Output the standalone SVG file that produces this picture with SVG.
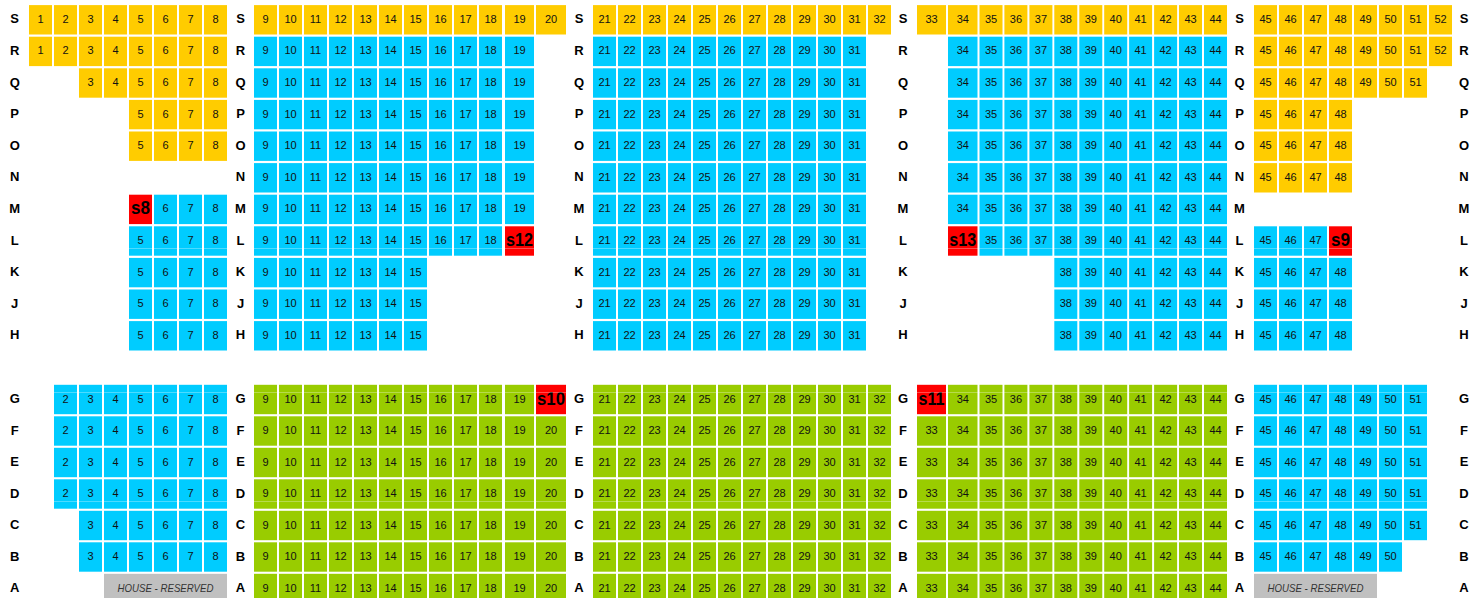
<svg xmlns="http://www.w3.org/2000/svg" width="1484" height="598" viewBox="0 0 1484 598">
<style>
rect{width:23px;height:29.4px;y:-13.7px}
rect.w{width:29px}
rect.w2{width:29.5px}
rect.w3{width:30px}
.y rect{fill:#ffcc00}
.b rect{fill:#00ccff}
.g rect{fill:#99cc00}
rect.r{fill:#ff0000}
rect.h{fill:#c0c0c0;width:123px}
text{font-family:"Liberation Sans",Arial,sans-serif;font-size:11px;text-anchor:middle;dominant-baseline:central;fill:#111}
text.l{font-size:13px;font-weight:bold;fill:#000}
text.rt{font-size:18px;font-weight:bold;fill:#000}
text.hs{font-size:10.5px;font-style:italic;fill:#333}
</style>
<rect x="0" y="0" width="1484" height="598" fill="#fff" style="width:1484px;height:598px;y:0px"/>

<g id="row-S" transform="translate(0,18.8)">
<g class="y"><rect x="29"/><text x="40.5">1</text><rect x="54"/><text x="65.5">2</text><rect x="79"/><text x="90.5">3</text><rect x="104"/><text x="115.5">4</text><rect x="129"/><text x="140.5">5</text><rect x="154"/><text x="165.5">6</text><rect x="179"/><text x="190.5">7</text><rect x="204"/><text x="215.5">8</text></g>
<g class="y"><rect x="254"/><text x="265.5">9</text><rect x="279"/><text x="290.5">10</text><rect x="304"/><text x="315.5">11</text><rect x="329"/><text x="340.5">12</text><rect x="354"/><text x="365.5">13</text><rect x="379"/><text x="390.5">14</text><rect x="404"/><text x="415.5">15</text><rect x="429"/><text x="440.5">16</text><rect x="454"/><text x="465.5">17</text><rect x="479"/><text x="490.5">18</text><rect class="w" x="505"/><text x="519.5">19</text><rect class="w3" x="536"/><text x="551">20</text></g>
<g class="y"><rect x="593"/><text x="604.5">21</text><rect x="618"/><text x="629.5">22</text><rect x="643"/><text x="654.5">23</text><rect x="668"/><text x="679.5">24</text><rect x="693"/><text x="704.5">25</text><rect x="718"/><text x="729.5">26</text><rect x="743"/><text x="754.5">27</text><rect x="768"/><text x="779.5">28</text><rect x="793"/><text x="804.5">29</text><rect x="818"/><text x="829.5">30</text><rect x="843"/><text x="854.5">31</text><rect x="868"/><text x="879.5">32</text></g>
<g class="y"><rect class="w" x="917"/><text x="931.5">33</text><rect class="w2" x="948"/><text x="962.8">34</text><rect x="979.5"/><text x="991">35</text><rect x="1004.4"/><text x="1015.9">36</text><rect x="1029.4"/><text x="1040.9">37</text><rect x="1054.3"/><text x="1065.8">38</text><rect x="1079.3"/><text x="1090.8">39</text><rect x="1104.2"/><text x="1115.7">40</text><rect x="1129.1"/><text x="1140.6">41</text><rect x="1154.1"/><text x="1165.6">42</text><rect x="1179"/><text x="1190.5">43</text><rect x="1204"/><text x="1215.5">44</text></g>
<g class="y"><rect x="1254"/><text x="1265.5">45</text><rect x="1279"/><text x="1290.5">46</text><rect x="1304"/><text x="1315.5">47</text><rect x="1329"/><text x="1340.5">48</text><rect x="1354"/><text x="1365.5">49</text><rect x="1379"/><text x="1390.5">50</text><rect x="1404"/><text x="1415.5">51</text><rect x="1429"/><text x="1440.5">52</text></g>
<text class="l" x="14.7">S</text><text class="l" x="240.5">S</text><text class="l" x="579">S</text><text class="l" x="903">S</text><text class="l" x="1239.5">S</text><text class="l" x="1464">S</text>
</g>

<g id="row-R" transform="translate(0,50.4)">
<g class="y"><rect x="29"/><text x="40.5">1</text><rect x="54"/><text x="65.5">2</text><rect x="79"/><text x="90.5">3</text><rect x="104"/><text x="115.5">4</text><rect x="129"/><text x="140.5">5</text><rect x="154"/><text x="165.5">6</text><rect x="179"/><text x="190.5">7</text><rect x="204"/><text x="215.5">8</text></g>
<g class="b"><rect x="254"/><text x="265.5">9</text><rect x="279"/><text x="290.5">10</text><rect x="304"/><text x="315.5">11</text><rect x="329"/><text x="340.5">12</text><rect x="354"/><text x="365.5">13</text><rect x="379"/><text x="390.5">14</text><rect x="404"/><text x="415.5">15</text><rect x="429"/><text x="440.5">16</text><rect x="454"/><text x="465.5">17</text><rect x="479"/><text x="490.5">18</text><rect class="w" x="505"/><text x="519.5">19</text></g>
<g class="b"><rect x="593"/><text x="604.5">21</text><rect x="618"/><text x="629.5">22</text><rect x="643"/><text x="654.5">23</text><rect x="668"/><text x="679.5">24</text><rect x="693"/><text x="704.5">25</text><rect x="718"/><text x="729.5">26</text><rect x="743"/><text x="754.5">27</text><rect x="768"/><text x="779.5">28</text><rect x="793"/><text x="804.5">29</text><rect x="818"/><text x="829.5">30</text><rect x="843"/><text x="854.5">31</text></g>
<g class="b"><rect class="w2" x="948"/><text x="962.8">34</text><rect x="979.5"/><text x="991">35</text><rect x="1004.4"/><text x="1015.9">36</text><rect x="1029.4"/><text x="1040.9">37</text><rect x="1054.3"/><text x="1065.8">38</text><rect x="1079.3"/><text x="1090.8">39</text><rect x="1104.2"/><text x="1115.7">40</text><rect x="1129.1"/><text x="1140.6">41</text><rect x="1154.1"/><text x="1165.6">42</text><rect x="1179"/><text x="1190.5">43</text><rect x="1204"/><text x="1215.5">44</text></g>
<g class="y"><rect x="1254"/><text x="1265.5">45</text><rect x="1279"/><text x="1290.5">46</text><rect x="1304"/><text x="1315.5">47</text><rect x="1329"/><text x="1340.5">48</text><rect x="1354"/><text x="1365.5">49</text><rect x="1379"/><text x="1390.5">50</text><rect x="1404"/><text x="1415.5">51</text><rect x="1429"/><text x="1440.5">52</text></g>
<text class="l" x="14.7">R</text><text class="l" x="240.5">R</text><text class="l" x="579">R</text><text class="l" x="903">R</text><text class="l" x="1239.5">R</text><text class="l" x="1464">R</text>
</g>

<g id="row-Q" transform="translate(0,82)">
<g class="y"><rect x="79"/><text x="90.5">3</text><rect x="104"/><text x="115.5">4</text><rect x="129"/><text x="140.5">5</text><rect x="154"/><text x="165.5">6</text><rect x="179"/><text x="190.5">7</text><rect x="204"/><text x="215.5">8</text></g>
<g class="b"><rect x="254"/><text x="265.5">9</text><rect x="279"/><text x="290.5">10</text><rect x="304"/><text x="315.5">11</text><rect x="329"/><text x="340.5">12</text><rect x="354"/><text x="365.5">13</text><rect x="379"/><text x="390.5">14</text><rect x="404"/><text x="415.5">15</text><rect x="429"/><text x="440.5">16</text><rect x="454"/><text x="465.5">17</text><rect x="479"/><text x="490.5">18</text><rect class="w" x="505"/><text x="519.5">19</text></g>
<g class="b"><rect x="593"/><text x="604.5">21</text><rect x="618"/><text x="629.5">22</text><rect x="643"/><text x="654.5">23</text><rect x="668"/><text x="679.5">24</text><rect x="693"/><text x="704.5">25</text><rect x="718"/><text x="729.5">26</text><rect x="743"/><text x="754.5">27</text><rect x="768"/><text x="779.5">28</text><rect x="793"/><text x="804.5">29</text><rect x="818"/><text x="829.5">30</text><rect x="843"/><text x="854.5">31</text></g>
<g class="b"><rect class="w2" x="948"/><text x="962.8">34</text><rect x="979.5"/><text x="991">35</text><rect x="1004.4"/><text x="1015.9">36</text><rect x="1029.4"/><text x="1040.9">37</text><rect x="1054.3"/><text x="1065.8">38</text><rect x="1079.3"/><text x="1090.8">39</text><rect x="1104.2"/><text x="1115.7">40</text><rect x="1129.1"/><text x="1140.6">41</text><rect x="1154.1"/><text x="1165.6">42</text><rect x="1179"/><text x="1190.5">43</text><rect x="1204"/><text x="1215.5">44</text></g>
<g class="y"><rect x="1254"/><text x="1265.5">45</text><rect x="1279"/><text x="1290.5">46</text><rect x="1304"/><text x="1315.5">47</text><rect x="1329"/><text x="1340.5">48</text><rect x="1354"/><text x="1365.5">49</text><rect x="1379"/><text x="1390.5">50</text><rect x="1404"/><text x="1415.5">51</text></g>
<text class="l" x="14.7">Q</text><text class="l" x="240.5">Q</text><text class="l" x="579">Q</text><text class="l" x="903">Q</text><text class="l" x="1239.5">Q</text><text class="l" x="1464">Q</text>
</g>

<g id="row-P" transform="translate(0,113.6)">
<g class="y"><rect x="129"/><text x="140.5">5</text><rect x="154"/><text x="165.5">6</text><rect x="179"/><text x="190.5">7</text><rect x="204"/><text x="215.5">8</text></g>
<g class="b"><rect x="254"/><text x="265.5">9</text><rect x="279"/><text x="290.5">10</text><rect x="304"/><text x="315.5">11</text><rect x="329"/><text x="340.5">12</text><rect x="354"/><text x="365.5">13</text><rect x="379"/><text x="390.5">14</text><rect x="404"/><text x="415.5">15</text><rect x="429"/><text x="440.5">16</text><rect x="454"/><text x="465.5">17</text><rect x="479"/><text x="490.5">18</text><rect class="w" x="505"/><text x="519.5">19</text></g>
<g class="b"><rect x="593"/><text x="604.5">21</text><rect x="618"/><text x="629.5">22</text><rect x="643"/><text x="654.5">23</text><rect x="668"/><text x="679.5">24</text><rect x="693"/><text x="704.5">25</text><rect x="718"/><text x="729.5">26</text><rect x="743"/><text x="754.5">27</text><rect x="768"/><text x="779.5">28</text><rect x="793"/><text x="804.5">29</text><rect x="818"/><text x="829.5">30</text><rect x="843"/><text x="854.5">31</text></g>
<g class="b"><rect class="w2" x="948"/><text x="962.8">34</text><rect x="979.5"/><text x="991">35</text><rect x="1004.4"/><text x="1015.9">36</text><rect x="1029.4"/><text x="1040.9">37</text><rect x="1054.3"/><text x="1065.8">38</text><rect x="1079.3"/><text x="1090.8">39</text><rect x="1104.2"/><text x="1115.7">40</text><rect x="1129.1"/><text x="1140.6">41</text><rect x="1154.1"/><text x="1165.6">42</text><rect x="1179"/><text x="1190.5">43</text><rect x="1204"/><text x="1215.5">44</text></g>
<g class="y"><rect x="1254"/><text x="1265.5">45</text><rect x="1279"/><text x="1290.5">46</text><rect x="1304"/><text x="1315.5">47</text><rect x="1329"/><text x="1340.5">48</text></g>
<text class="l" x="14.7">P</text><text class="l" x="240.5">P</text><text class="l" x="579">P</text><text class="l" x="903">P</text><text class="l" x="1239.5">P</text><text class="l" x="1464">P</text>
</g>

<g id="row-O" transform="translate(0,145.2)">
<g class="y"><rect x="129"/><text x="140.5">5</text><rect x="154"/><text x="165.5">6</text><rect x="179"/><text x="190.5">7</text><rect x="204"/><text x="215.5">8</text></g>
<g class="b"><rect x="254"/><text x="265.5">9</text><rect x="279"/><text x="290.5">10</text><rect x="304"/><text x="315.5">11</text><rect x="329"/><text x="340.5">12</text><rect x="354"/><text x="365.5">13</text><rect x="379"/><text x="390.5">14</text><rect x="404"/><text x="415.5">15</text><rect x="429"/><text x="440.5">16</text><rect x="454"/><text x="465.5">17</text><rect x="479"/><text x="490.5">18</text><rect class="w" x="505"/><text x="519.5">19</text></g>
<g class="b"><rect x="593"/><text x="604.5">21</text><rect x="618"/><text x="629.5">22</text><rect x="643"/><text x="654.5">23</text><rect x="668"/><text x="679.5">24</text><rect x="693"/><text x="704.5">25</text><rect x="718"/><text x="729.5">26</text><rect x="743"/><text x="754.5">27</text><rect x="768"/><text x="779.5">28</text><rect x="793"/><text x="804.5">29</text><rect x="818"/><text x="829.5">30</text><rect x="843"/><text x="854.5">31</text></g>
<g class="b"><rect class="w2" x="948"/><text x="962.8">34</text><rect x="979.5"/><text x="991">35</text><rect x="1004.4"/><text x="1015.9">36</text><rect x="1029.4"/><text x="1040.9">37</text><rect x="1054.3"/><text x="1065.8">38</text><rect x="1079.3"/><text x="1090.8">39</text><rect x="1104.2"/><text x="1115.7">40</text><rect x="1129.1"/><text x="1140.6">41</text><rect x="1154.1"/><text x="1165.6">42</text><rect x="1179"/><text x="1190.5">43</text><rect x="1204"/><text x="1215.5">44</text></g>
<g class="y"><rect x="1254"/><text x="1265.5">45</text><rect x="1279"/><text x="1290.5">46</text><rect x="1304"/><text x="1315.5">47</text><rect x="1329"/><text x="1340.5">48</text></g>
<text class="l" x="14.7">O</text><text class="l" x="240.5">O</text><text class="l" x="579">O</text><text class="l" x="903">O</text><text class="l" x="1239.5">O</text><text class="l" x="1464">O</text>
</g>

<g id="row-N" transform="translate(0,176.8)">
<g class="b"><rect x="254"/><text x="265.5">9</text><rect x="279"/><text x="290.5">10</text><rect x="304"/><text x="315.5">11</text><rect x="329"/><text x="340.5">12</text><rect x="354"/><text x="365.5">13</text><rect x="379"/><text x="390.5">14</text><rect x="404"/><text x="415.5">15</text><rect x="429"/><text x="440.5">16</text><rect x="454"/><text x="465.5">17</text><rect x="479"/><text x="490.5">18</text><rect class="w" x="505"/><text x="519.5">19</text></g>
<g class="b"><rect x="593"/><text x="604.5">21</text><rect x="618"/><text x="629.5">22</text><rect x="643"/><text x="654.5">23</text><rect x="668"/><text x="679.5">24</text><rect x="693"/><text x="704.5">25</text><rect x="718"/><text x="729.5">26</text><rect x="743"/><text x="754.5">27</text><rect x="768"/><text x="779.5">28</text><rect x="793"/><text x="804.5">29</text><rect x="818"/><text x="829.5">30</text><rect x="843"/><text x="854.5">31</text></g>
<g class="b"><rect class="w2" x="948"/><text x="962.8">34</text><rect x="979.5"/><text x="991">35</text><rect x="1004.4"/><text x="1015.9">36</text><rect x="1029.4"/><text x="1040.9">37</text><rect x="1054.3"/><text x="1065.8">38</text><rect x="1079.3"/><text x="1090.8">39</text><rect x="1104.2"/><text x="1115.7">40</text><rect x="1129.1"/><text x="1140.6">41</text><rect x="1154.1"/><text x="1165.6">42</text><rect x="1179"/><text x="1190.5">43</text><rect x="1204"/><text x="1215.5">44</text></g>
<g class="y"><rect x="1254"/><text x="1265.5">45</text><rect x="1279"/><text x="1290.5">46</text><rect x="1304"/><text x="1315.5">47</text><rect x="1329"/><text x="1340.5">48</text></g>
<text class="l" x="14.7">N</text><text class="l" x="240.5">N</text><text class="l" x="579">N</text><text class="l" x="903">N</text><text class="l" x="1239.5">N</text><text class="l" x="1464">N</text>
</g>

<g id="row-M" transform="translate(0,208.4)">
<g class="b"><rect class="r" x="129"/><text class="rt" x="140.5" textLength="19" lengthAdjust="spacingAndGlyphs">s8</text><rect x="154"/><text x="165.5">6</text><rect x="179"/><text x="190.5">7</text><rect x="204"/><text x="215.5">8</text></g>
<g class="b"><rect x="254"/><text x="265.5">9</text><rect x="279"/><text x="290.5">10</text><rect x="304"/><text x="315.5">11</text><rect x="329"/><text x="340.5">12</text><rect x="354"/><text x="365.5">13</text><rect x="379"/><text x="390.5">14</text><rect x="404"/><text x="415.5">15</text><rect x="429"/><text x="440.5">16</text><rect x="454"/><text x="465.5">17</text><rect x="479"/><text x="490.5">18</text><rect class="w" x="505"/><text x="519.5">19</text></g>
<g class="b"><rect x="593"/><text x="604.5">21</text><rect x="618"/><text x="629.5">22</text><rect x="643"/><text x="654.5">23</text><rect x="668"/><text x="679.5">24</text><rect x="693"/><text x="704.5">25</text><rect x="718"/><text x="729.5">26</text><rect x="743"/><text x="754.5">27</text><rect x="768"/><text x="779.5">28</text><rect x="793"/><text x="804.5">29</text><rect x="818"/><text x="829.5">30</text><rect x="843"/><text x="854.5">31</text></g>
<g class="b"><rect class="w2" x="948"/><text x="962.8">34</text><rect x="979.5"/><text x="991">35</text><rect x="1004.4"/><text x="1015.9">36</text><rect x="1029.4"/><text x="1040.9">37</text><rect x="1054.3"/><text x="1065.8">38</text><rect x="1079.3"/><text x="1090.8">39</text><rect x="1104.2"/><text x="1115.7">40</text><rect x="1129.1"/><text x="1140.6">41</text><rect x="1154.1"/><text x="1165.6">42</text><rect x="1179"/><text x="1190.5">43</text><rect x="1204"/><text x="1215.5">44</text></g>
<text class="l" x="14.7">M</text><text class="l" x="240.5">M</text><text class="l" x="579">M</text><text class="l" x="903">M</text><text class="l" x="1239.5">M</text><text class="l" x="1464">M</text>
</g>

<g id="row-L" transform="translate(0,240)">
<g class="b"><rect x="129"/><text x="140.5">5</text><rect x="154"/><text x="165.5">6</text><rect x="179"/><text x="190.5">7</text><rect x="204"/><text x="215.5">8</text></g>
<g class="b"><rect x="254"/><text x="265.5">9</text><rect x="279"/><text x="290.5">10</text><rect x="304"/><text x="315.5">11</text><rect x="329"/><text x="340.5">12</text><rect x="354"/><text x="365.5">13</text><rect x="379"/><text x="390.5">14</text><rect x="404"/><text x="415.5">15</text><rect x="429"/><text x="440.5">16</text><rect x="454"/><text x="465.5">17</text><rect x="479"/><text x="490.5">18</text><rect class="r w" x="505"/><text class="rt" x="519.5" textLength="27" lengthAdjust="spacingAndGlyphs">s12</text></g>
<g class="b"><rect x="593"/><text x="604.5">21</text><rect x="618"/><text x="629.5">22</text><rect x="643"/><text x="654.5">23</text><rect x="668"/><text x="679.5">24</text><rect x="693"/><text x="704.5">25</text><rect x="718"/><text x="729.5">26</text><rect x="743"/><text x="754.5">27</text><rect x="768"/><text x="779.5">28</text><rect x="793"/><text x="804.5">29</text><rect x="818"/><text x="829.5">30</text><rect x="843"/><text x="854.5">31</text></g>
<g class="b"><rect class="r w2" x="948"/><text class="rt" x="962.8" textLength="27" lengthAdjust="spacingAndGlyphs">s13</text><rect x="979.5"/><text x="991">35</text><rect x="1004.4"/><text x="1015.9">36</text><rect x="1029.4"/><text x="1040.9">37</text><rect x="1054.3"/><text x="1065.8">38</text><rect x="1079.3"/><text x="1090.8">39</text><rect x="1104.2"/><text x="1115.7">40</text><rect x="1129.1"/><text x="1140.6">41</text><rect x="1154.1"/><text x="1165.6">42</text><rect x="1179"/><text x="1190.5">43</text><rect x="1204"/><text x="1215.5">44</text></g>
<g class="b"><rect x="1254"/><text x="1265.5">45</text><rect x="1279"/><text x="1290.5">46</text><rect x="1304"/><text x="1315.5">47</text><rect class="r" x="1329"/><text class="rt" x="1340.5" textLength="19" lengthAdjust="spacingAndGlyphs">s9</text></g>
<text class="l" x="14.7">L</text><text class="l" x="240.5">L</text><text class="l" x="579">L</text><text class="l" x="903">L</text><text class="l" x="1239.5">L</text><text class="l" x="1464">L</text>
</g>

<g id="row-K" transform="translate(0,271.6)">
<g class="b"><rect x="129"/><text x="140.5">5</text><rect x="154"/><text x="165.5">6</text><rect x="179"/><text x="190.5">7</text><rect x="204"/><text x="215.5">8</text></g>
<g class="b"><rect x="254"/><text x="265.5">9</text><rect x="279"/><text x="290.5">10</text><rect x="304"/><text x="315.5">11</text><rect x="329"/><text x="340.5">12</text><rect x="354"/><text x="365.5">13</text><rect x="379"/><text x="390.5">14</text><rect x="404"/><text x="415.5">15</text></g>
<g class="b"><rect x="593"/><text x="604.5">21</text><rect x="618"/><text x="629.5">22</text><rect x="643"/><text x="654.5">23</text><rect x="668"/><text x="679.5">24</text><rect x="693"/><text x="704.5">25</text><rect x="718"/><text x="729.5">26</text><rect x="743"/><text x="754.5">27</text><rect x="768"/><text x="779.5">28</text><rect x="793"/><text x="804.5">29</text><rect x="818"/><text x="829.5">30</text><rect x="843"/><text x="854.5">31</text></g>
<g class="b"><rect x="1054.3"/><text x="1065.8">38</text><rect x="1079.3"/><text x="1090.8">39</text><rect x="1104.2"/><text x="1115.7">40</text><rect x="1129.1"/><text x="1140.6">41</text><rect x="1154.1"/><text x="1165.6">42</text><rect x="1179"/><text x="1190.5">43</text><rect x="1204"/><text x="1215.5">44</text></g>
<g class="b"><rect x="1254"/><text x="1265.5">45</text><rect x="1279"/><text x="1290.5">46</text><rect x="1304"/><text x="1315.5">47</text><rect x="1329"/><text x="1340.5">48</text></g>
<text class="l" x="14.7">K</text><text class="l" x="240.5">K</text><text class="l" x="579">K</text><text class="l" x="903">K</text><text class="l" x="1239.5">K</text><text class="l" x="1464">K</text>
</g>

<g id="row-J" transform="translate(0,303.2)">
<g class="b"><rect x="129"/><text x="140.5">5</text><rect x="154"/><text x="165.5">6</text><rect x="179"/><text x="190.5">7</text><rect x="204"/><text x="215.5">8</text></g>
<g class="b"><rect x="254"/><text x="265.5">9</text><rect x="279"/><text x="290.5">10</text><rect x="304"/><text x="315.5">11</text><rect x="329"/><text x="340.5">12</text><rect x="354"/><text x="365.5">13</text><rect x="379"/><text x="390.5">14</text><rect x="404"/><text x="415.5">15</text></g>
<g class="b"><rect x="593"/><text x="604.5">21</text><rect x="618"/><text x="629.5">22</text><rect x="643"/><text x="654.5">23</text><rect x="668"/><text x="679.5">24</text><rect x="693"/><text x="704.5">25</text><rect x="718"/><text x="729.5">26</text><rect x="743"/><text x="754.5">27</text><rect x="768"/><text x="779.5">28</text><rect x="793"/><text x="804.5">29</text><rect x="818"/><text x="829.5">30</text><rect x="843"/><text x="854.5">31</text></g>
<g class="b"><rect x="1054.3"/><text x="1065.8">38</text><rect x="1079.3"/><text x="1090.8">39</text><rect x="1104.2"/><text x="1115.7">40</text><rect x="1129.1"/><text x="1140.6">41</text><rect x="1154.1"/><text x="1165.6">42</text><rect x="1179"/><text x="1190.5">43</text><rect x="1204"/><text x="1215.5">44</text></g>
<g class="b"><rect x="1254"/><text x="1265.5">45</text><rect x="1279"/><text x="1290.5">46</text><rect x="1304"/><text x="1315.5">47</text><rect x="1329"/><text x="1340.5">48</text></g>
<text class="l" x="14.7">J</text><text class="l" x="240.5">J</text><text class="l" x="579">J</text><text class="l" x="903">J</text><text class="l" x="1239.5">J</text><text class="l" x="1464">J</text>
</g>

<g id="row-H" transform="translate(0,334.8)">
<g class="b"><rect x="129"/><text x="140.5">5</text><rect x="154"/><text x="165.5">6</text><rect x="179"/><text x="190.5">7</text><rect x="204"/><text x="215.5">8</text></g>
<g class="b"><rect x="254"/><text x="265.5">9</text><rect x="279"/><text x="290.5">10</text><rect x="304"/><text x="315.5">11</text><rect x="329"/><text x="340.5">12</text><rect x="354"/><text x="365.5">13</text><rect x="379"/><text x="390.5">14</text><rect x="404"/><text x="415.5">15</text></g>
<g class="b"><rect x="593"/><text x="604.5">21</text><rect x="618"/><text x="629.5">22</text><rect x="643"/><text x="654.5">23</text><rect x="668"/><text x="679.5">24</text><rect x="693"/><text x="704.5">25</text><rect x="718"/><text x="729.5">26</text><rect x="743"/><text x="754.5">27</text><rect x="768"/><text x="779.5">28</text><rect x="793"/><text x="804.5">29</text><rect x="818"/><text x="829.5">30</text><rect x="843"/><text x="854.5">31</text></g>
<g class="b"><rect x="1054.3"/><text x="1065.8">38</text><rect x="1079.3"/><text x="1090.8">39</text><rect x="1104.2"/><text x="1115.7">40</text><rect x="1129.1"/><text x="1140.6">41</text><rect x="1154.1"/><text x="1165.6">42</text><rect x="1179"/><text x="1190.5">43</text><rect x="1204"/><text x="1215.5">44</text></g>
<g class="b"><rect x="1254"/><text x="1265.5">45</text><rect x="1279"/><text x="1290.5">46</text><rect x="1304"/><text x="1315.5">47</text><rect x="1329"/><text x="1340.5">48</text></g>
<text class="l" x="14.7">H</text><text class="l" x="240.5">H</text><text class="l" x="579">H</text><text class="l" x="903">H</text><text class="l" x="1239.5">H</text><text class="l" x="1464">H</text>
</g>

<g id="row-G" transform="translate(0,398.5)">
<g class="b"><rect x="54"/><text x="65.5">2</text><rect x="79"/><text x="90.5">3</text><rect x="104"/><text x="115.5">4</text><rect x="129"/><text x="140.5">5</text><rect x="154"/><text x="165.5">6</text><rect x="179"/><text x="190.5">7</text><rect x="204"/><text x="215.5">8</text></g>
<g class="g"><rect x="254"/><text x="265.5">9</text><rect x="279"/><text x="290.5">10</text><rect x="304"/><text x="315.5">11</text><rect x="329"/><text x="340.5">12</text><rect x="354"/><text x="365.5">13</text><rect x="379"/><text x="390.5">14</text><rect x="404"/><text x="415.5">15</text><rect x="429"/><text x="440.5">16</text><rect x="454"/><text x="465.5">17</text><rect x="479"/><text x="490.5">18</text><rect class="w" x="505"/><text x="519.5">19</text><rect class="r w3" x="536"/><text class="rt" x="551" textLength="28" lengthAdjust="spacingAndGlyphs">s10</text></g>
<g class="g"><rect x="593"/><text x="604.5">21</text><rect x="618"/><text x="629.5">22</text><rect x="643"/><text x="654.5">23</text><rect x="668"/><text x="679.5">24</text><rect x="693"/><text x="704.5">25</text><rect x="718"/><text x="729.5">26</text><rect x="743"/><text x="754.5">27</text><rect x="768"/><text x="779.5">28</text><rect x="793"/><text x="804.5">29</text><rect x="818"/><text x="829.5">30</text><rect x="843"/><text x="854.5">31</text><rect x="868"/><text x="879.5">32</text></g>
<g class="g"><rect class="r w" x="917"/><text class="rt" x="931.5" textLength="26" lengthAdjust="spacingAndGlyphs">s11</text><rect class="w2" x="948"/><text x="962.8">34</text><rect x="979.5"/><text x="991">35</text><rect x="1004.4"/><text x="1015.9">36</text><rect x="1029.4"/><text x="1040.9">37</text><rect x="1054.3"/><text x="1065.8">38</text><rect x="1079.3"/><text x="1090.8">39</text><rect x="1104.2"/><text x="1115.7">40</text><rect x="1129.1"/><text x="1140.6">41</text><rect x="1154.1"/><text x="1165.6">42</text><rect x="1179"/><text x="1190.5">43</text><rect x="1204"/><text x="1215.5">44</text></g>
<g class="b"><rect x="1254"/><text x="1265.5">45</text><rect x="1279"/><text x="1290.5">46</text><rect x="1304"/><text x="1315.5">47</text><rect x="1329"/><text x="1340.5">48</text><rect x="1354"/><text x="1365.5">49</text><rect x="1379"/><text x="1390.5">50</text><rect x="1404"/><text x="1415.5">51</text></g>
<text class="l" x="14.7">G</text><text class="l" x="240.5">G</text><text class="l" x="579">G</text><text class="l" x="903">G</text><text class="l" x="1239.5">G</text><text class="l" x="1464">G</text>
</g>

<g id="row-F" transform="translate(0,430)">
<g class="b"><rect x="54"/><text x="65.5">2</text><rect x="79"/><text x="90.5">3</text><rect x="104"/><text x="115.5">4</text><rect x="129"/><text x="140.5">5</text><rect x="154"/><text x="165.5">6</text><rect x="179"/><text x="190.5">7</text><rect x="204"/><text x="215.5">8</text></g>
<g class="g"><rect x="254"/><text x="265.5">9</text><rect x="279"/><text x="290.5">10</text><rect x="304"/><text x="315.5">11</text><rect x="329"/><text x="340.5">12</text><rect x="354"/><text x="365.5">13</text><rect x="379"/><text x="390.5">14</text><rect x="404"/><text x="415.5">15</text><rect x="429"/><text x="440.5">16</text><rect x="454"/><text x="465.5">17</text><rect x="479"/><text x="490.5">18</text><rect class="w" x="505"/><text x="519.5">19</text><rect class="w3" x="536"/><text x="551">20</text></g>
<g class="g"><rect x="593"/><text x="604.5">21</text><rect x="618"/><text x="629.5">22</text><rect x="643"/><text x="654.5">23</text><rect x="668"/><text x="679.5">24</text><rect x="693"/><text x="704.5">25</text><rect x="718"/><text x="729.5">26</text><rect x="743"/><text x="754.5">27</text><rect x="768"/><text x="779.5">28</text><rect x="793"/><text x="804.5">29</text><rect x="818"/><text x="829.5">30</text><rect x="843"/><text x="854.5">31</text><rect x="868"/><text x="879.5">32</text></g>
<g class="g"><rect class="w" x="917"/><text x="931.5">33</text><rect class="w2" x="948"/><text x="962.8">34</text><rect x="979.5"/><text x="991">35</text><rect x="1004.4"/><text x="1015.9">36</text><rect x="1029.4"/><text x="1040.9">37</text><rect x="1054.3"/><text x="1065.8">38</text><rect x="1079.3"/><text x="1090.8">39</text><rect x="1104.2"/><text x="1115.7">40</text><rect x="1129.1"/><text x="1140.6">41</text><rect x="1154.1"/><text x="1165.6">42</text><rect x="1179"/><text x="1190.5">43</text><rect x="1204"/><text x="1215.5">44</text></g>
<g class="b"><rect x="1254"/><text x="1265.5">45</text><rect x="1279"/><text x="1290.5">46</text><rect x="1304"/><text x="1315.5">47</text><rect x="1329"/><text x="1340.5">48</text><rect x="1354"/><text x="1365.5">49</text><rect x="1379"/><text x="1390.5">50</text><rect x="1404"/><text x="1415.5">51</text></g>
<text class="l" x="14.7">F</text><text class="l" x="240.5">F</text><text class="l" x="579">F</text><text class="l" x="903">F</text><text class="l" x="1239.5">F</text><text class="l" x="1464">F</text>
</g>

<g id="row-E" transform="translate(0,461.5)">
<g class="b"><rect x="54"/><text x="65.5">2</text><rect x="79"/><text x="90.5">3</text><rect x="104"/><text x="115.5">4</text><rect x="129"/><text x="140.5">5</text><rect x="154"/><text x="165.5">6</text><rect x="179"/><text x="190.5">7</text><rect x="204"/><text x="215.5">8</text></g>
<g class="g"><rect x="254"/><text x="265.5">9</text><rect x="279"/><text x="290.5">10</text><rect x="304"/><text x="315.5">11</text><rect x="329"/><text x="340.5">12</text><rect x="354"/><text x="365.5">13</text><rect x="379"/><text x="390.5">14</text><rect x="404"/><text x="415.5">15</text><rect x="429"/><text x="440.5">16</text><rect x="454"/><text x="465.5">17</text><rect x="479"/><text x="490.5">18</text><rect class="w" x="505"/><text x="519.5">19</text><rect class="w3" x="536"/><text x="551">20</text></g>
<g class="g"><rect x="593"/><text x="604.5">21</text><rect x="618"/><text x="629.5">22</text><rect x="643"/><text x="654.5">23</text><rect x="668"/><text x="679.5">24</text><rect x="693"/><text x="704.5">25</text><rect x="718"/><text x="729.5">26</text><rect x="743"/><text x="754.5">27</text><rect x="768"/><text x="779.5">28</text><rect x="793"/><text x="804.5">29</text><rect x="818"/><text x="829.5">30</text><rect x="843"/><text x="854.5">31</text><rect x="868"/><text x="879.5">32</text></g>
<g class="g"><rect class="w" x="917"/><text x="931.5">33</text><rect class="w2" x="948"/><text x="962.8">34</text><rect x="979.5"/><text x="991">35</text><rect x="1004.4"/><text x="1015.9">36</text><rect x="1029.4"/><text x="1040.9">37</text><rect x="1054.3"/><text x="1065.8">38</text><rect x="1079.3"/><text x="1090.8">39</text><rect x="1104.2"/><text x="1115.7">40</text><rect x="1129.1"/><text x="1140.6">41</text><rect x="1154.1"/><text x="1165.6">42</text><rect x="1179"/><text x="1190.5">43</text><rect x="1204"/><text x="1215.5">44</text></g>
<g class="b"><rect x="1254"/><text x="1265.5">45</text><rect x="1279"/><text x="1290.5">46</text><rect x="1304"/><text x="1315.5">47</text><rect x="1329"/><text x="1340.5">48</text><rect x="1354"/><text x="1365.5">49</text><rect x="1379"/><text x="1390.5">50</text><rect x="1404"/><text x="1415.5">51</text></g>
<text class="l" x="14.7">E</text><text class="l" x="240.5">E</text><text class="l" x="579">E</text><text class="l" x="903">E</text><text class="l" x="1239.5">E</text><text class="l" x="1464">E</text>
</g>

<g id="row-D" transform="translate(0,493)">
<g class="b"><rect x="54"/><text x="65.5">2</text><rect x="79"/><text x="90.5">3</text><rect x="104"/><text x="115.5">4</text><rect x="129"/><text x="140.5">5</text><rect x="154"/><text x="165.5">6</text><rect x="179"/><text x="190.5">7</text><rect x="204"/><text x="215.5">8</text></g>
<g class="g"><rect x="254"/><text x="265.5">9</text><rect x="279"/><text x="290.5">10</text><rect x="304"/><text x="315.5">11</text><rect x="329"/><text x="340.5">12</text><rect x="354"/><text x="365.5">13</text><rect x="379"/><text x="390.5">14</text><rect x="404"/><text x="415.5">15</text><rect x="429"/><text x="440.5">16</text><rect x="454"/><text x="465.5">17</text><rect x="479"/><text x="490.5">18</text><rect class="w" x="505"/><text x="519.5">19</text><rect class="w3" x="536"/><text x="551">20</text></g>
<g class="g"><rect x="593"/><text x="604.5">21</text><rect x="618"/><text x="629.5">22</text><rect x="643"/><text x="654.5">23</text><rect x="668"/><text x="679.5">24</text><rect x="693"/><text x="704.5">25</text><rect x="718"/><text x="729.5">26</text><rect x="743"/><text x="754.5">27</text><rect x="768"/><text x="779.5">28</text><rect x="793"/><text x="804.5">29</text><rect x="818"/><text x="829.5">30</text><rect x="843"/><text x="854.5">31</text><rect x="868"/><text x="879.5">32</text></g>
<g class="g"><rect class="w" x="917"/><text x="931.5">33</text><rect class="w2" x="948"/><text x="962.8">34</text><rect x="979.5"/><text x="991">35</text><rect x="1004.4"/><text x="1015.9">36</text><rect x="1029.4"/><text x="1040.9">37</text><rect x="1054.3"/><text x="1065.8">38</text><rect x="1079.3"/><text x="1090.8">39</text><rect x="1104.2"/><text x="1115.7">40</text><rect x="1129.1"/><text x="1140.6">41</text><rect x="1154.1"/><text x="1165.6">42</text><rect x="1179"/><text x="1190.5">43</text><rect x="1204"/><text x="1215.5">44</text></g>
<g class="b"><rect x="1254"/><text x="1265.5">45</text><rect x="1279"/><text x="1290.5">46</text><rect x="1304"/><text x="1315.5">47</text><rect x="1329"/><text x="1340.5">48</text><rect x="1354"/><text x="1365.5">49</text><rect x="1379"/><text x="1390.5">50</text><rect x="1404"/><text x="1415.5">51</text></g>
<text class="l" x="14.7">D</text><text class="l" x="240.5">D</text><text class="l" x="579">D</text><text class="l" x="903">D</text><text class="l" x="1239.5">D</text><text class="l" x="1464">D</text>
</g>

<g id="row-C" transform="translate(0,524.5)">
<g class="b"><rect x="79"/><text x="90.5">3</text><rect x="104"/><text x="115.5">4</text><rect x="129"/><text x="140.5">5</text><rect x="154"/><text x="165.5">6</text><rect x="179"/><text x="190.5">7</text><rect x="204"/><text x="215.5">8</text></g>
<g class="g"><rect x="254"/><text x="265.5">9</text><rect x="279"/><text x="290.5">10</text><rect x="304"/><text x="315.5">11</text><rect x="329"/><text x="340.5">12</text><rect x="354"/><text x="365.5">13</text><rect x="379"/><text x="390.5">14</text><rect x="404"/><text x="415.5">15</text><rect x="429"/><text x="440.5">16</text><rect x="454"/><text x="465.5">17</text><rect x="479"/><text x="490.5">18</text><rect class="w" x="505"/><text x="519.5">19</text><rect class="w3" x="536"/><text x="551">20</text></g>
<g class="g"><rect x="593"/><text x="604.5">21</text><rect x="618"/><text x="629.5">22</text><rect x="643"/><text x="654.5">23</text><rect x="668"/><text x="679.5">24</text><rect x="693"/><text x="704.5">25</text><rect x="718"/><text x="729.5">26</text><rect x="743"/><text x="754.5">27</text><rect x="768"/><text x="779.5">28</text><rect x="793"/><text x="804.5">29</text><rect x="818"/><text x="829.5">30</text><rect x="843"/><text x="854.5">31</text><rect x="868"/><text x="879.5">32</text></g>
<g class="g"><rect class="w" x="917"/><text x="931.5">33</text><rect class="w2" x="948"/><text x="962.8">34</text><rect x="979.5"/><text x="991">35</text><rect x="1004.4"/><text x="1015.9">36</text><rect x="1029.4"/><text x="1040.9">37</text><rect x="1054.3"/><text x="1065.8">38</text><rect x="1079.3"/><text x="1090.8">39</text><rect x="1104.2"/><text x="1115.7">40</text><rect x="1129.1"/><text x="1140.6">41</text><rect x="1154.1"/><text x="1165.6">42</text><rect x="1179"/><text x="1190.5">43</text><rect x="1204"/><text x="1215.5">44</text></g>
<g class="b"><rect x="1254"/><text x="1265.5">45</text><rect x="1279"/><text x="1290.5">46</text><rect x="1304"/><text x="1315.5">47</text><rect x="1329"/><text x="1340.5">48</text><rect x="1354"/><text x="1365.5">49</text><rect x="1379"/><text x="1390.5">50</text><rect x="1404"/><text x="1415.5">51</text></g>
<text class="l" x="14.7">C</text><text class="l" x="240.5">C</text><text class="l" x="579">C</text><text class="l" x="903">C</text><text class="l" x="1239.5">C</text><text class="l" x="1464">C</text>
</g>

<g id="row-B" transform="translate(0,556)">
<g class="b"><rect x="79"/><text x="90.5">3</text><rect x="104"/><text x="115.5">4</text><rect x="129"/><text x="140.5">5</text><rect x="154"/><text x="165.5">6</text><rect x="179"/><text x="190.5">7</text><rect x="204"/><text x="215.5">8</text></g>
<g class="g"><rect x="254"/><text x="265.5">9</text><rect x="279"/><text x="290.5">10</text><rect x="304"/><text x="315.5">11</text><rect x="329"/><text x="340.5">12</text><rect x="354"/><text x="365.5">13</text><rect x="379"/><text x="390.5">14</text><rect x="404"/><text x="415.5">15</text><rect x="429"/><text x="440.5">16</text><rect x="454"/><text x="465.5">17</text><rect x="479"/><text x="490.5">18</text><rect class="w" x="505"/><text x="519.5">19</text><rect class="w3" x="536"/><text x="551">20</text></g>
<g class="g"><rect x="593"/><text x="604.5">21</text><rect x="618"/><text x="629.5">22</text><rect x="643"/><text x="654.5">23</text><rect x="668"/><text x="679.5">24</text><rect x="693"/><text x="704.5">25</text><rect x="718"/><text x="729.5">26</text><rect x="743"/><text x="754.5">27</text><rect x="768"/><text x="779.5">28</text><rect x="793"/><text x="804.5">29</text><rect x="818"/><text x="829.5">30</text><rect x="843"/><text x="854.5">31</text><rect x="868"/><text x="879.5">32</text></g>
<g class="g"><rect class="w" x="917"/><text x="931.5">33</text><rect class="w2" x="948"/><text x="962.8">34</text><rect x="979.5"/><text x="991">35</text><rect x="1004.4"/><text x="1015.9">36</text><rect x="1029.4"/><text x="1040.9">37</text><rect x="1054.3"/><text x="1065.8">38</text><rect x="1079.3"/><text x="1090.8">39</text><rect x="1104.2"/><text x="1115.7">40</text><rect x="1129.1"/><text x="1140.6">41</text><rect x="1154.1"/><text x="1165.6">42</text><rect x="1179"/><text x="1190.5">43</text><rect x="1204"/><text x="1215.5">44</text></g>
<g class="b"><rect x="1254"/><text x="1265.5">45</text><rect x="1279"/><text x="1290.5">46</text><rect x="1304"/><text x="1315.5">47</text><rect x="1329"/><text x="1340.5">48</text><rect x="1354"/><text x="1365.5">49</text><rect x="1379"/><text x="1390.5">50</text></g>
<text class="l" x="14.7">B</text><text class="l" x="240.5">B</text><text class="l" x="579">B</text><text class="l" x="903">B</text><text class="l" x="1239.5">B</text><text class="l" x="1464">B</text>
</g>

<g id="row-A" transform="translate(0,587.5)">
<g><rect class="h" x="104"/><text class="hs" x="165.5" textLength="96" lengthAdjust="spacingAndGlyphs">HOUSE - RESERVED</text></g>
<g class="g"><rect x="254"/><text x="265.5">9</text><rect x="279"/><text x="290.5">10</text><rect x="304"/><text x="315.5">11</text><rect x="329"/><text x="340.5">12</text><rect x="354"/><text x="365.5">13</text><rect x="379"/><text x="390.5">14</text><rect x="404"/><text x="415.5">15</text><rect x="429"/><text x="440.5">16</text><rect x="454"/><text x="465.5">17</text><rect x="479"/><text x="490.5">18</text><rect class="w" x="505"/><text x="519.5">19</text><rect class="w3" x="536"/><text x="551">20</text></g>
<g class="g"><rect x="593"/><text x="604.5">21</text><rect x="618"/><text x="629.5">22</text><rect x="643"/><text x="654.5">23</text><rect x="668"/><text x="679.5">24</text><rect x="693"/><text x="704.5">25</text><rect x="718"/><text x="729.5">26</text><rect x="743"/><text x="754.5">27</text><rect x="768"/><text x="779.5">28</text><rect x="793"/><text x="804.5">29</text><rect x="818"/><text x="829.5">30</text><rect x="843"/><text x="854.5">31</text><rect x="868"/><text x="879.5">32</text></g>
<g class="g"><rect class="w" x="917"/><text x="931.5">33</text><rect class="w2" x="948"/><text x="962.8">34</text><rect x="979.5"/><text x="991">35</text><rect x="1004.4"/><text x="1015.9">36</text><rect x="1029.4"/><text x="1040.9">37</text><rect x="1054.3"/><text x="1065.8">38</text><rect x="1079.3"/><text x="1090.8">39</text><rect x="1104.2"/><text x="1115.7">40</text><rect x="1129.1"/><text x="1140.6">41</text><rect x="1154.1"/><text x="1165.6">42</text><rect x="1179"/><text x="1190.5">43</text><rect x="1204"/><text x="1215.5">44</text></g>
<g><rect class="h" x="1254"/><text class="hs" x="1315.5" textLength="96" lengthAdjust="spacingAndGlyphs">HOUSE - RESERVED</text></g>
<text class="l" x="14.7">A</text><text class="l" x="240.5">A</text><text class="l" x="579">A</text><text class="l" x="903">A</text><text class="l" x="1239.5">A</text><text class="l" x="1464">A</text>
</g>

<g id="scan-lines" stroke="#fff" stroke-opacity="0.3" stroke-width="1">
<line x1="0" y1="248.5" x2="1484" y2="248.5"/>
<line x1="0" y1="392.5" x2="1484" y2="392.5"/>
<line x1="0" y1="501.5" x2="1484" y2="501.5"/>
</g>
</svg>
